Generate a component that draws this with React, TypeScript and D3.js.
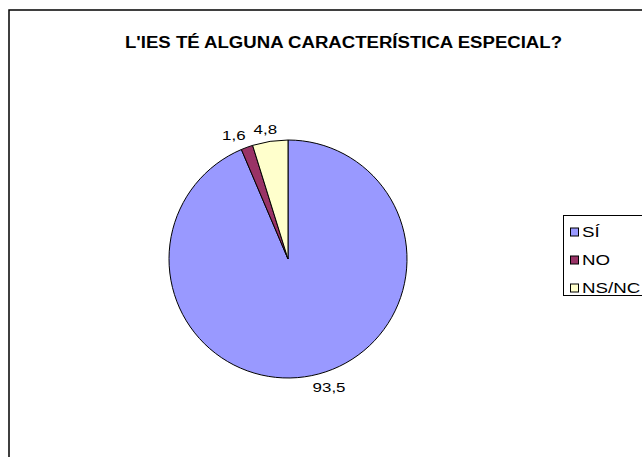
import React from "react";
import * as d3 from "d3";

const categories = ["SÍ", "NO", "NS/NC"];
const values = [93.5, 1.6, 4.8];
const valueLabels = ["93,5", "1,6", "4,8"];
const colors = ["#9999FF", "#993366", "#FFFFCC"];
const title = "L'IES TÉ ALGUNA CARACTERÍSTICA ESPECIAL?";

const W = 642;
const H = 457;

// approximate Arial advance widths (em) for the label characters
const charW: Record<string, number> = { ",": 0.278 };
const textWidth = (t: string, fs: number) =>
  t.split("").reduce((acc, ch) => acc + (charW[ch] ?? 0.556), 0) * fs;

export default function App() {
  const cx = 288;
  const cy = 259;
  const r = 119;
  const labelFs = 13;
  const sx = 1.3; // horizontal stretch of the text in the reference
  const gap = 4;
  const minGap = 8;
  const pie = d3
    .pie<number>()
    .sort(null)
    .value((d) => d)
    .startAngle(0)
    .endAngle(2 * Math.PI);
  const arcs = pie(values);
  const arcGen = d3.arc<d3.PieArcDatum<number>>().innerRadius(0).outerRadius(r);
  const font = "'Liberation Sans', Arial, sans-serif";
  const legendY = d3.scalePoint<string>().domain(categories).range([232, 288]);

  const boxes = arcs.map((a, i) => {
    const mid = (a.startAngle + a.endAngle) / 2;
    const s = Math.sin(mid);
    const c = Math.cos(mid);
    const hw = (textWidth(valueLabels[i], labelFs) * sx) / 2;
    const hh = (labelFs * 1.2) / 2;
    const px = cx + (r + gap) * s;
    const py = cy - (r + gap) * c;
    return {
      i,
      x: px + Math.sign(s) * hw,
      y: py - Math.sign(c) * hh,
      hw,
      hh,
    };
  });
  const sorted = [...boxes].sort((a, b) => a.x - b.x);
  for (let k = 1; k < sorted.length; k++) {
    const p = sorted[k - 1];
    const q = sorted[k];
    if (Math.abs(p.y - q.y) < p.hh + q.hh) {
      const need = p.x + p.hw + minGap - (q.x - q.hw);
      if (need > 0) q.x += need;
    }
  }

  return (
    <svg
      width={W}
      height={H}
      style={{ position: "absolute", left: 0, top: 0, background: "#fff" }}
      fontFamily={font}
    >
      <rect x={0} y={0} width={W} height={H} fill="#fff" />
      <rect x={9} y={10} width={680} height={480} fill="none" stroke="#000" strokeWidth={1.5} />
      <text
        x={343.5}
        y={48}
        textAnchor="middle"
        fontWeight="bold"
        fontSize={16}
        textLength={437}
        lengthAdjust="spacingAndGlyphs"
      >
        {title}
      </text>
      <g transform={`translate(${cx},${cy})`}>
        {arcs.map((a, i) => (
          <path key={i} d={arcGen(a) || ""} fill={colors[i]} stroke="#000" strokeWidth={1} />
        ))}
      </g>
      {boxes.map((b) => (
        <g key={b.i} transform={`translate(${b.x},${b.y + labelFs * 0.35}) scale(${sx},1)`}>
          <text x={0} y={0} textAnchor="middle" fontSize={labelFs}>
            {valueLabels[b.i]}
          </text>
        </g>
      ))}
      <rect x={563.5} y={215.5} width={100} height={80} fill="#fff" stroke="#000" strokeWidth={1} />
      {categories.map((c, i) => (
        <g key={c}>
          <rect
            x={570.5}
            y={(legendY(c) as number) - 4}
            width={8}
            height={8}
            fill={colors[i]}
            stroke="#000"
            strokeWidth={1}
          />
          <g transform={`translate(582,${(legendY(c) as number) + 5.2}) scale(${sx},1)`}>
            <text x={0} y={0} fontSize={14.4}>
              {c}
            </text>
          </g>
        </g>
      ))}
    </svg>
  );
}
